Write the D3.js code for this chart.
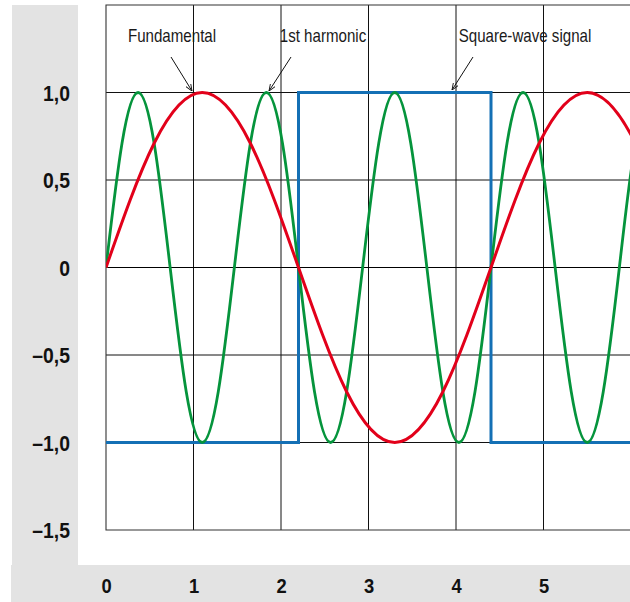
<html>
<head>
<meta charset="utf-8">
<script src="https://d3js.org/d3.v7.min.js"></script>
<style>
  body { margin: 0; background: #fff; }
  text { font-family: "Liberation Sans", Arial, sans-serif; }
</style>
</head>
<body>
<svg id="svg" width="630" height="602"></svg>
<script>
// values
var yTicks = [-1.5, -1, -0.5, 0, 0.5, 1];
var xTicks = [0, 1, 2, 3, 4, 5];
var gridY = [-1, -0.5, 0.5, 1];
var gridX = [1, 2, 3, 4, 5];

// fundamental: points at every 1/8 period (period ~4.4)
var fundX = [0, 0.55, 1.1, 1.65, 2.2, 2.75, 3.3, 3.85, 4.4, 4.95, 5.5, 6.05, 6.6];
var fundY = [0, 0.71, 1, 0.71, 0, -0.71, -1, -0.71, 0, 0.71, 1, 0.71, 0];

// harmonic: points at every 1/8 period (period ~1.467)
var harmX = [0, 0.183, 0.367, 0.55, 0.733, 0.917, 1.1, 1.283, 1.467, 1.65, 1.833, 2.017, 2.2,
             2.383, 2.567, 2.75, 2.933, 3.117, 3.3, 3.483, 3.667, 3.85, 4.033, 4.217, 4.4,
             4.583, 4.767, 4.95, 5.133, 5.317, 5.5, 5.683, 5.867, 6.05, 6.233];
var harmY = [0, 0.71, 1, 0.71, 0, -0.71, -1, -0.71, 0, 0.71, 1, 0.71, 0,
             -0.71, -1, -0.71, 0, 0.71, 1, 0.71, 0, -0.71, -1, -0.71, 0,
             0.71, 1, 0.71, 0, -0.71, -1, -0.71, 0, 0.71, 1];

// square wave (step after)
var squareX = [0, 2.2, 4.4, 6.6];
var squareY = [-1, 1, -1, -1];

var labels = ["Fundamental", "1st harmonic", "Square-wave signal"];
var labelX = [172, 323, 525];
var arrowFrom = [[171, 57], [291, 57], [473, 57]];
var arrowTo = [[192, 91], [269, 91], [452, 90]];

var svg = d3.select("svg");
var width = +svg.attr("width");

var x = d3.scaleLinear().domain([0, 1]).range([106, 193.5]);
var y = d3.scaleLinear().domain([-1.5, 1.5]).range([530, 5]);

// grey panels
svg.append("rect").attr("x", 12).attr("y", 5).attr("width", 66).attr("height", 565).attr("fill", "#e3e3e3");
svg.append("rect").attr("x", 11).attr("y", 565).attr("width", 619).attr("height", 37).attr("fill", "#e3e3e3");

var plot = svg.append("g");

// grid
plot.selectAll(".gy").data(gridY).enter().append("line")
    .attr("x1", 106).attr("x2", width)
    .attr("y1", function(d){ return y(d); })
    .attr("y2", function(d){ return y(d); })
    .attr("stroke", "#111").attr("stroke-width", 1);
plot.selectAll(".gx").data(gridX).enter().append("line")
    .attr("y1", 5).attr("y2", 530)
    .attr("x1", function(d){ return x(d); })
    .attr("x2", function(d){ return x(d); })
    .attr("stroke", "#111").attr("stroke-width", 1);

// frame
plot.append("path").attr("d", "M" + width + " 5H106V530H" + width)
    .attr("fill", "none").attr("stroke", "#333").attr("stroke-width", 1.1);

// zero line
plot.append("line").attr("x1", 106).attr("x2", width)
    .attr("y1", y(0)).attr("y2", y(0))
    .attr("stroke", "#000").attr("stroke-width", 1);

var clip = svg.append("clipPath").attr("id", "clip");
clip.append("rect").attr("x", 106).attr("y", 0).attr("width", 530).attr("height", 530);
var curves = svg.append("g").attr("clip-path", "url(#clip)");

var sq = squareX.map(function(d, i){ return [d, squareY[i]]; });
var fund = fundX.map(function(d, i){ return [d, fundY[i]]; });
var harm = harmX.map(function(d, i){ return [d, harmY[i]]; });

curves.append("path").datum(sq)
    .attr("d", d3.line().x(function(d){ return x(d[0]); }).y(function(d){ return y(d[1]); }).curve(d3.curveStepAfter))
    .attr("fill", "none").attr("stroke", "#1470b5").attr("stroke-width", 3);

curves.append("path").datum(harm)
    .attr("d", d3.line().x(function(d){ return x(d[0]); }).y(function(d){ return y(d[1]); }).curve(d3.curveNatural))
    .attr("fill", "none").attr("stroke", "#05943c").attr("stroke-width", 2.8);

curves.append("path").datum(fund)
    .attr("d", d3.line().x(function(d){ return x(d[0]); }).y(function(d){ return y(d[1]); }).curve(d3.curveNatural))
    .attr("fill", "none").attr("stroke", "#e2001a").attr("stroke-width", 3);

// axes
var fmt = function(d){ return d === 0 ? "0" : d3.format(".1f")(d).replace(".", ",").replace(/[-\u2212]/, "\u2013"); };
var yAxis = svg.append("g").attr("transform", "translate(106,0)")
    .call(d3.axisLeft(y).tickValues(yTicks).tickFormat(fmt).tickSize(0));
var xAxis = svg.append("g").attr("transform", "translate(0,0)")
    .call(d3.axisBottom(x).tickValues(xTicks).tickFormat(d3.format("d")).tickSize(0));
[yAxis, xAxis].forEach(function(a){
    a.select(".domain").remove();
    a.selectAll("text").attr("font-family", "'Liberation Sans', Arial, sans-serif")
        .attr("font-weight", "bold").attr("fill", "#111");
});
yAxis.selectAll("text").attr("font-size", 22).attr("x", 0).attr("dy", "0.36em")
    .attr("transform", "translate(-36,0) scale(0.88,1)");
xAxis.selectAll("text").attr("font-size", 20).attr("y", 0).attr("dy", 0)
    .attr("transform", "translate(0,593) scale(0.92,1)");

// annotations
var defs = svg.append("defs");
defs.append("marker").attr("id", "arr").attr("viewBox", "0 0 10 10").attr("refX", 10).attr("refY", 5)
    .attr("markerWidth", 7).attr("markerHeight", 7).attr("orient", "auto")
    .append("path").attr("d", "M0,1L10,5L0,9").attr("fill", "none").attr("stroke", "#111").attr("stroke-width", 1.3);

labels.forEach(function(t, i){
    svg.append("text").attr("transform", "translate(" + labelX[i] + ",42) scale(0.84,1)")
        .attr("text-anchor", "middle")
        .attr("font-size", 18).attr("fill", "#1a1a1a").text(t);
    svg.append("line").attr("x1", arrowFrom[i][0]).attr("y1", arrowFrom[i][1])
        .attr("x2", arrowTo[i][0]).attr("y2", arrowTo[i][1])
        .attr("stroke", "#111").attr("stroke-width", 1).attr("marker-end", "url(#arr)");
});
</script>
</body>
</html>
